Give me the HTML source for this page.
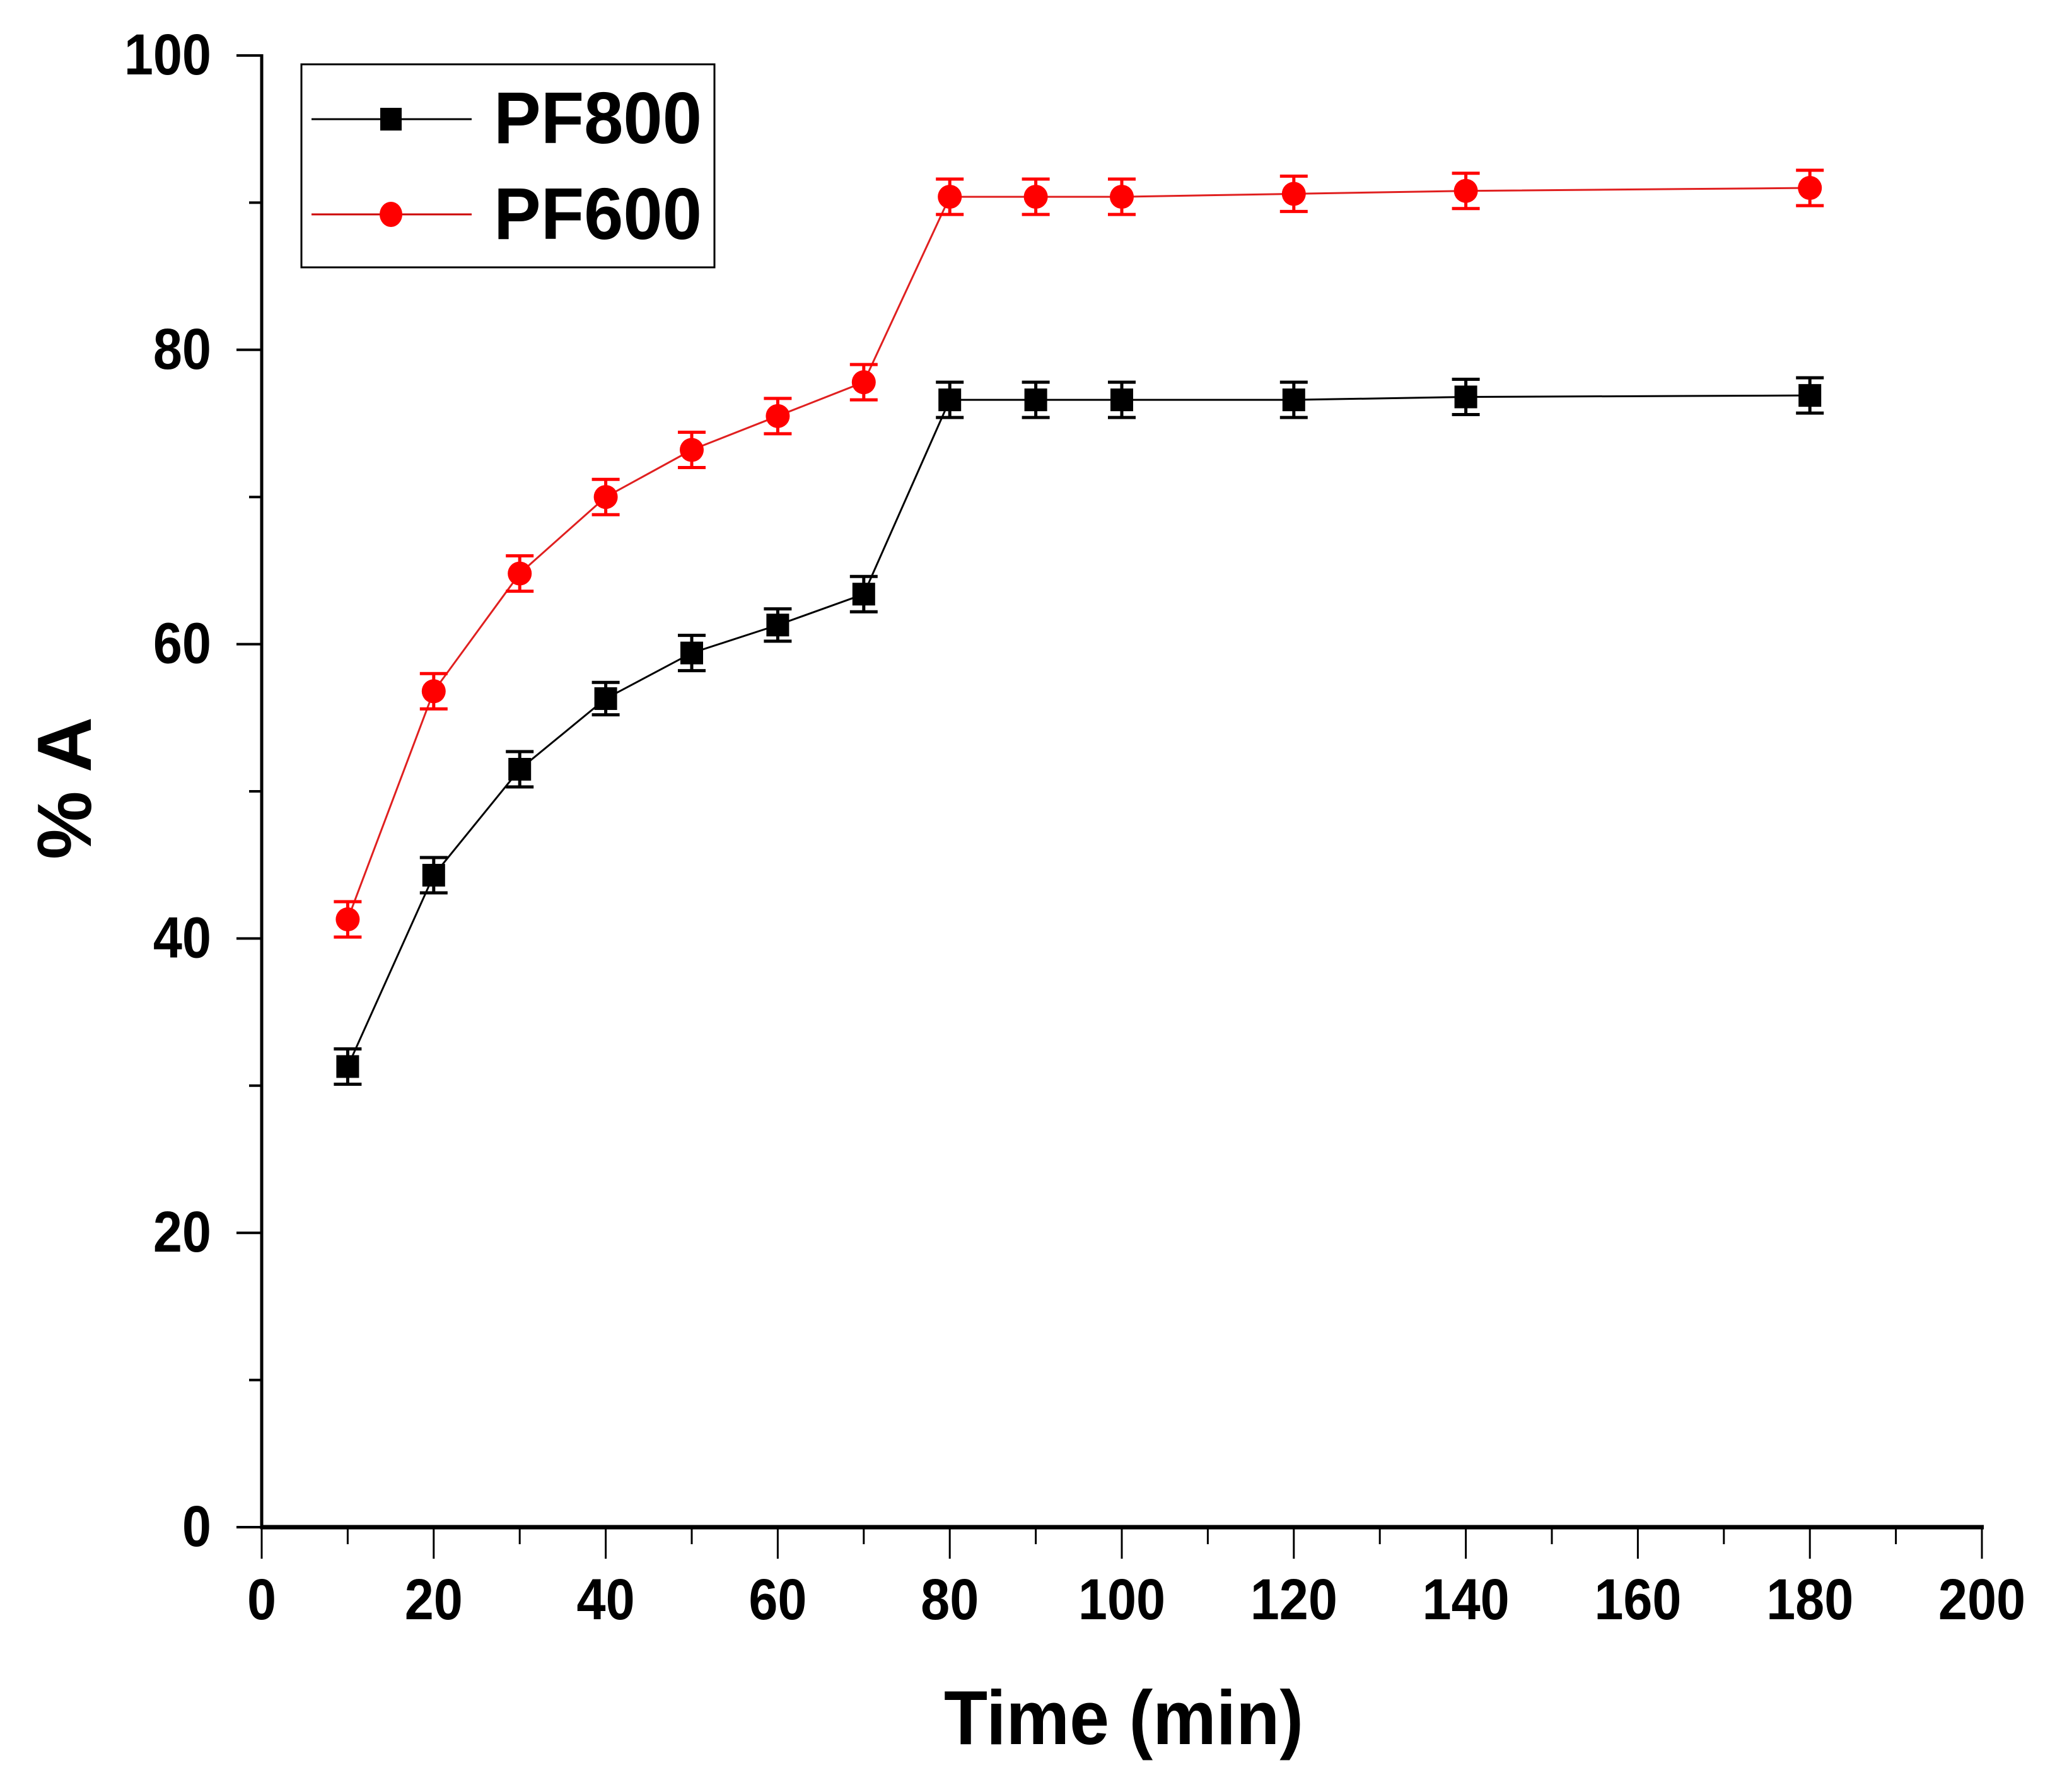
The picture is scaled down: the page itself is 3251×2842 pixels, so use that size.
<!DOCTYPE html>
<html><head><meta charset="utf-8"><style>
html,body{margin:0;padding:0;background:#fff;}
svg{display:block;font-family:"Liberation Sans",Arial,sans-serif;font-weight:bold;}
</style></head><body>
<svg id="chart" width="3251" height="2842" viewBox="0 0 3251 2842" xmlns="http://www.w3.org/2000/svg">
<g id="axes"></g>
<g id="series"></g>
<g id="legend">
  <rect x="478" y="102" width="655" height="322" fill="#fff" stroke="#000" stroke-width="3"/>
  <line x1="494" y1="189" x2="748" y2="189" stroke="#000" stroke-width="3"/>
  <rect x="603" y="171" width="34" height="36" fill="#000"/>
  <text x="783" y="227" font-size="116" textLength="330" lengthAdjust="spacingAndGlyphs">PF800</text>
  <line x1="494" y1="340" x2="748" y2="340" stroke="#c00" stroke-width="3"/>
  <ellipse cx="620" cy="340" rx="18" ry="20" fill="#f00"/>
  <text x="783" y="379" font-size="116" textLength="330" lengthAdjust="spacingAndGlyphs">PF600</text>
</g>
</svg>
<script>
const times = [10,20,30,40,50,60,70,80,90,100,120,140,180];
const pf800 = [31.3,44.3,51.5,56.3,59.4,61.3,63.4,76.6,76.6,76.6,76.6,76.8,76.9];
const pf600 = [41.3,56.8,64.8,70.0,73.2,75.5,77.8,90.4,90.4,90.4,90.6,90.8,91.0];
const pf800Err = [1.2,1.2,1.2,1.1,1.2,1.1,1.2,1.2,1.2,1.2,1.2,1.2,1.2];
const pf600Err = [1.2,1.2,1.2,1.2,1.2,1.2,1.2,1.2,1.2,1.2,1.2,1.2,1.2];
const xTicks = [0,20,40,60,80,100,120,140,160,180,200];
const yTicks = [0,20,40,60,80,100];

const NS="http://www.w3.org/2000/svg";
const X0=415,X1=3143,Y0=2422,Y1=88;
const sx=v=>X0+(v-0)/(200-0)*(X1-X0);
const sy=v=>Y0-(v-0)/(100-0)*(Y0-Y1);
function mk(tag,attrs,parent){const e=document.createElementNS(NS,tag);for(const k in attrs)e.setAttribute(k,attrs[k]);parent.appendChild(e);return e;}
const axes=document.getElementById('axes');
const ser=document.getElementById('series');

let a=mk('line',{x1:X0-2,y1:Y0,x2:X1+3,y2:Y0,stroke:'#000','stroke-width':7},axes);


a=mk('line',{x1:X0,y1:Y0+3,x2:X0,y2:Y1-2,stroke:'#000','stroke-width':5},axes);



for(let v=0;v<=200;v+=10){
  const major=v%20===0;
  const t=mk('line',{x1:sx(v),y1:Y0,x2:sx(v),y2:Y0+(major?50:27),stroke:'#000','stroke-width':3},axes);
  
  
}
xTicks.forEach(v=>{
  const t=mk('text',{x:sx(v),y:2568,'font-size':92,'text-anchor':'middle','transform':`translate(${sx(v)},0) scale(0.9,1) translate(${-sx(v)},0)`},axes);
  t.textContent=v;
  
  
});
for(let v=0;v<=100;v+=10){
  const major=v%20===0;
  const t=mk('line',{x1:X0,y1:sy(v),x2:X0-(major?40:20),y2:sy(v),stroke:'#000','stroke-width':4},axes);
  
  
}
yTicks.forEach(v=>{
  const t=mk('text',{x:335,y:sy(v)+30,'font-size':92,'text-anchor':'end','transform':'translate(335,0) scale(0.9,1) translate(-335,0)'},axes);
  t.textContent=v;
  
  
});
let tt=mk('text',{x:1782,y:2766,'font-size':122,'text-anchor':'middle',textLength:570,lengthAdjust:'spacingAndGlyphs'},axes);
tt.textContent='Time (min)';


tt=mk('text',{x:0,y:0,'font-size':122,'text-anchor':'middle',transform:'translate(144,1250) rotate(-90)'},axes);
tt.textContent='% A';



function drawSeries(vals,errs,color,lineColor,shape,name){
  const g=mk('g',{},ser);
  
  
  const pts=times.map((t,i)=>sx(t)+','+sy(vals[i])).join(' ');
  const pl=mk('polyline',{points:pts,fill:'none',stroke:lineColor,'stroke-width':3},g);
  
  
  times.forEach((t,i)=>{
    const x=sx(t),y=sy(vals[i]),yt=sy(vals[i]+errs[i]),yb=sy(vals[i]-errs[i]);
    const eb=mk('path',{d:`M${x},${yt}V${yb}M${x-22},${yt}H${x+22}M${x-22},${yb}H${x+22}`,stroke:color,'stroke-width':5,fill:'none'},g);
    
    
    let m;
    if(shape==='square') m=mk('rect',{x:x-18,y:y-18,width:36,height:36,fill:color},g);
    else m=mk('circle',{cx:x,cy:y,r:19,fill:color},g);
    
    
  });
}
drawSeries(pf800,pf800Err,'#000','#000','square','pf800');
drawSeries(pf600,pf600Err,'#f00','#e02020','circle','pf600');
</script>
</body></html>
